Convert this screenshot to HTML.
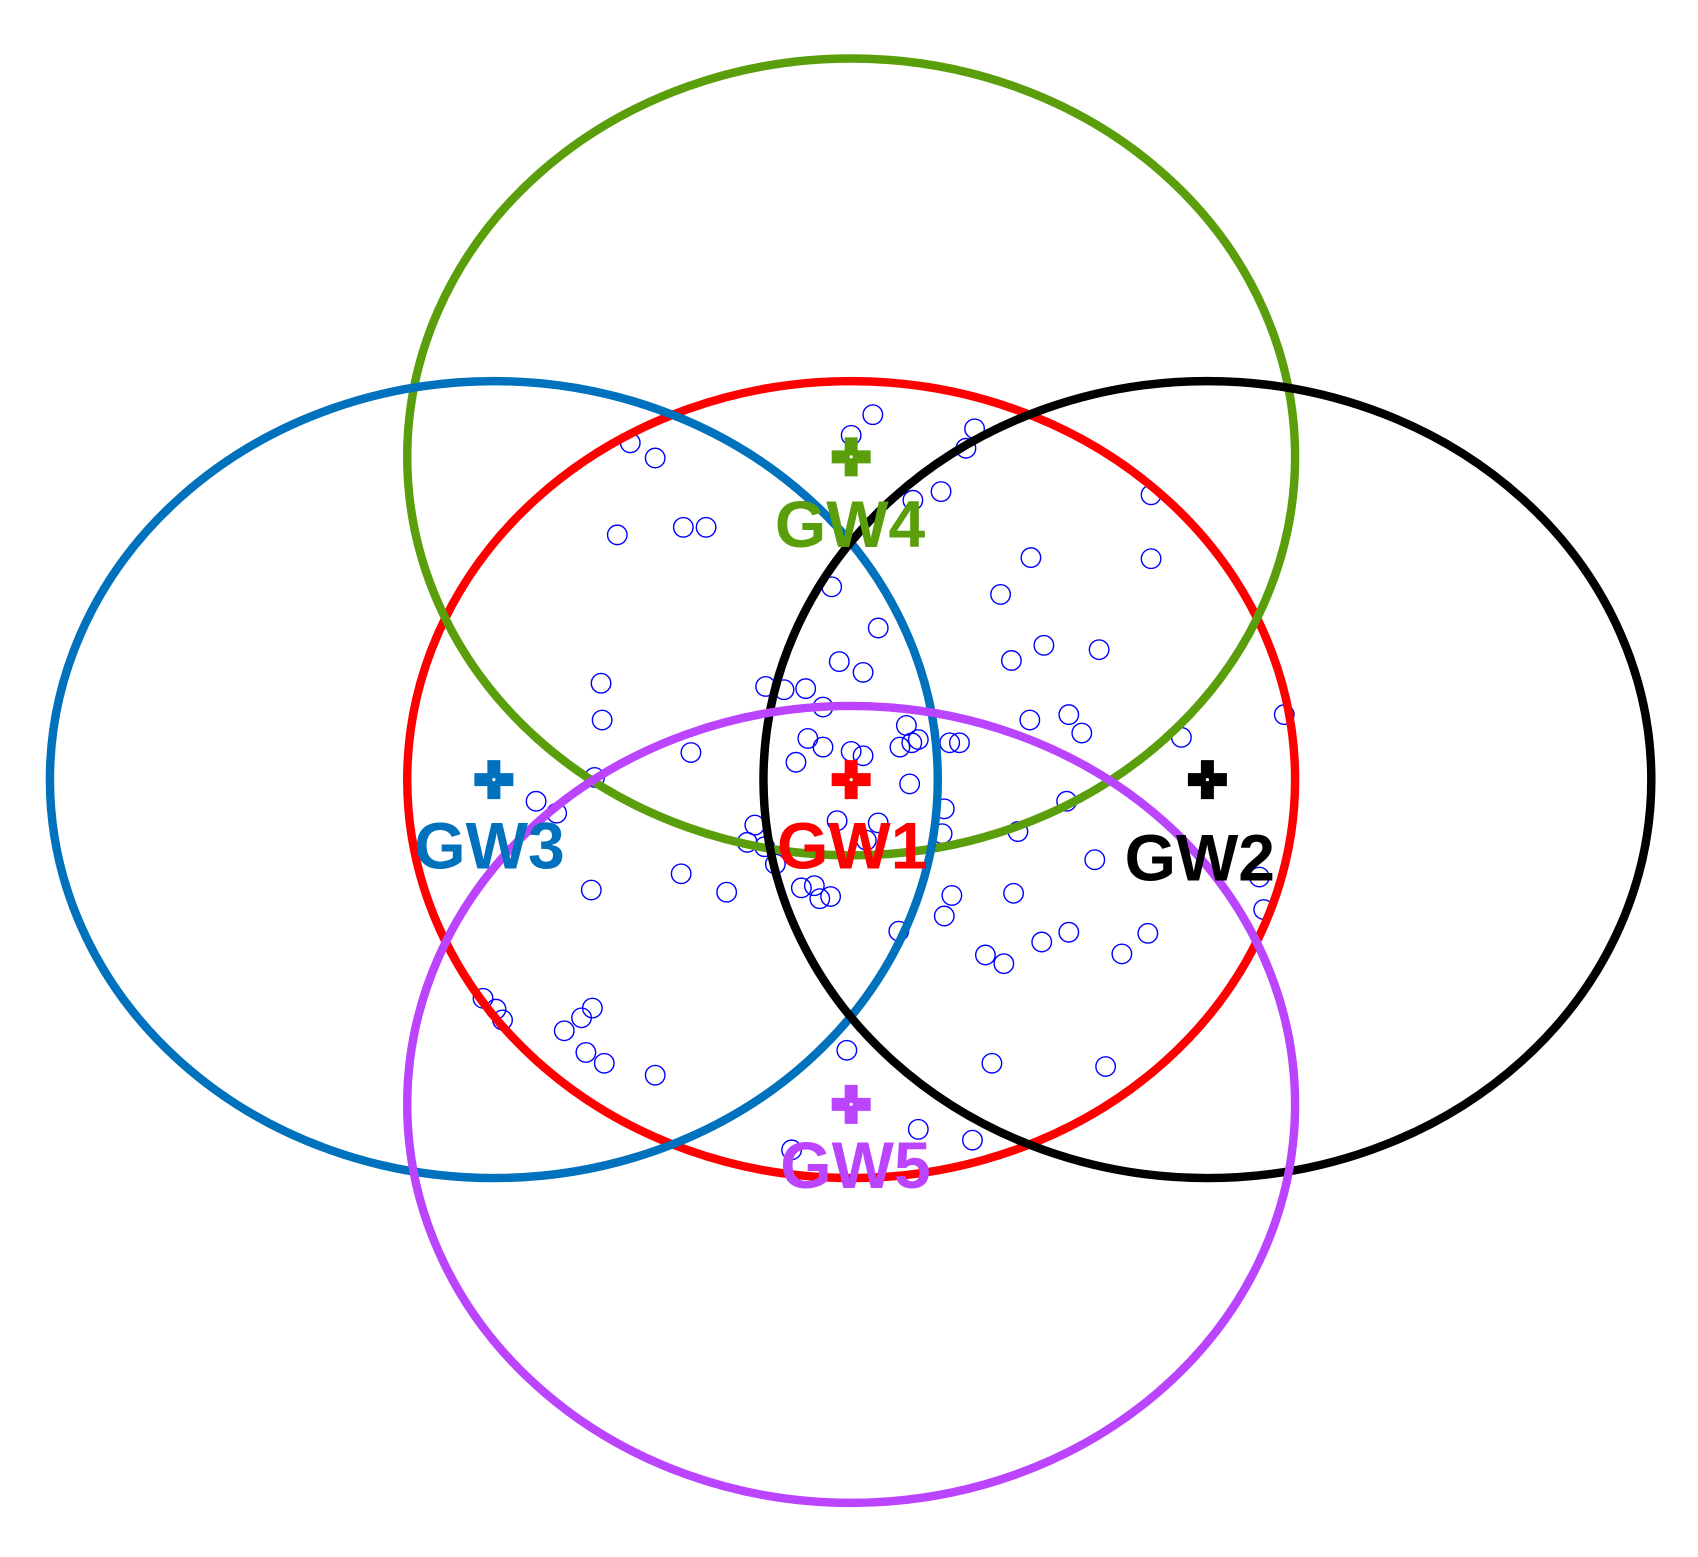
<!DOCTYPE html>
<html><head><style>html,body{margin:0;padding:0;background:#fff}svg{display:block}</style></head>
<body>
<svg width="1698" height="1557" viewBox="0 0 1568 1438" xmlns="http://www.w3.org/2000/svg">
<rect width="1568" height="1438" fill="#fff"/>
<g fill="none" stroke-width="1.3" stroke="#0000ff" id="pts">
<circle cx="806" cy="383" r="9"/><circle cx="786" cy="402" r="9"/><circle cx="900" cy="396" r="9"/><circle cx="892" cy="414" r="9"/><circle cx="582" cy="409" r="9"/><circle cx="605" cy="423" r="9"/><circle cx="570" cy="494" r="9"/><circle cx="631" cy="487" r="9"/><circle cx="652" cy="487" r="9"/><circle cx="843" cy="462" r="9"/><circle cx="869" cy="454" r="9"/><circle cx="1063" cy="457" r="9"/><circle cx="1063" cy="516" r="9"/><circle cx="952" cy="515" r="9"/><circle cx="924" cy="549" r="9"/><circle cx="768" cy="542" r="9"/><circle cx="811" cy="580" r="9"/><circle cx="775" cy="611" r="9"/><circle cx="797" cy="621" r="9"/><circle cx="934" cy="610" r="9"/><circle cx="964" cy="596" r="9"/><circle cx="1015" cy="600" r="9"/><circle cx="555" cy="631" r="9"/><circle cx="556" cy="665" r="9"/><circle cx="707" cy="634" r="9"/><circle cx="724" cy="637" r="9"/><circle cx="744" cy="636" r="9"/><circle cx="760" cy="653" r="9"/><circle cx="638" cy="695" r="9"/><circle cx="746" cy="682" r="9"/><circle cx="760" cy="690" r="9"/><circle cx="735" cy="704" r="9"/><circle cx="786" cy="694" r="9"/><circle cx="797" cy="698" r="9"/><circle cx="837" cy="670" r="9"/><circle cx="831" cy="690" r="9"/><circle cx="842" cy="686" r="9"/><circle cx="848" cy="683" r="9"/><circle cx="877" cy="686" r="9"/><circle cx="886" cy="686" r="9"/><circle cx="840" cy="724" r="9"/><circle cx="951" cy="665" r="9"/><circle cx="987" cy="660" r="9"/><circle cx="999" cy="677" r="9"/><circle cx="1091" cy="681" r="9"/><circle cx="1186" cy="660" r="9"/><circle cx="549" cy="718" r="9"/><circle cx="495" cy="740" r="9"/><circle cx="514" cy="751" r="9"/><circle cx="872" cy="747" r="9"/><circle cx="940" cy="768" r="9"/><circle cx="985" cy="740" r="9"/><circle cx="870" cy="770" r="9"/><circle cx="697" cy="762" r="9"/><circle cx="690" cy="778" r="9"/><circle cx="706" cy="782" r="9"/><circle cx="716" cy="798" r="9"/><circle cx="773" cy="758" r="9"/><circle cx="800" cy="776" r="9"/><circle cx="811" cy="760" r="9"/><circle cx="629" cy="807" r="9"/><circle cx="671" cy="824" r="9"/><circle cx="546" cy="822" r="9"/><circle cx="740" cy="820" r="9"/><circle cx="752" cy="818" r="9"/><circle cx="767" cy="828" r="9"/><circle cx="757" cy="830" r="9"/><circle cx="879" cy="827" r="9"/><circle cx="936" cy="825" r="9"/><circle cx="1011" cy="794" r="9"/><circle cx="1163" cy="810" r="9"/><circle cx="1167" cy="840" r="9"/><circle cx="830" cy="860" r="9"/><circle cx="872" cy="846" r="9"/><circle cx="910" cy="882" r="9"/><circle cx="927" cy="890" r="9"/><circle cx="962" cy="870" r="9"/><circle cx="987" cy="861" r="9"/><circle cx="1036" cy="881" r="9"/><circle cx="1060" cy="862" r="9"/><circle cx="446" cy="922" r="9"/><circle cx="458" cy="932" r="9"/><circle cx="464" cy="942" r="9"/><circle cx="547" cy="931" r="9"/><circle cx="537" cy="940" r="9"/><circle cx="521" cy="952" r="9"/><circle cx="541" cy="972" r="9"/><circle cx="558" cy="982" r="9"/><circle cx="605" cy="993" r="9"/><circle cx="782" cy="970" r="9"/><circle cx="916" cy="982" r="9"/><circle cx="1021" cy="985" r="9"/><circle cx="848" cy="1043" r="9"/><circle cx="898" cy="1053" r="9"/><circle cx="731" cy="1062" r="9"/>
</g>
<g fill="none" stroke-width="7.8">
<ellipse cx="786" cy="720" rx="410" ry="368" stroke="#ff0000"/>
<ellipse cx="786" cy="422" rx="410" ry="368" stroke="#5b9e0b"/>
<ellipse cx="456" cy="720" rx="410" ry="368" stroke="#0071bc"/>
<ellipse cx="1115" cy="720" rx="410" ry="368" stroke="#000"/>
<ellipse cx="786" cy="1020" rx="410" ry="368" stroke="#bb44ff"/>
</g>
<g stroke-width="12">
<path d="M768 720H804M786 702V738" stroke="#ff0000"/>
<path d="M768 422H804M786 404V440" stroke="#5b9e0b"/>
<path d="M438 720H474M456 702V738" stroke="#0071bc"/>
<path d="M1097 720H1133M1115 702V738" stroke="#000"/>
<path d="M768 1020H804M786 1002V1038" stroke="#bb44ff"/>
</g>
<g fill="#fff">
<circle cx="786" cy="720" r="1.5"/><circle cx="786" cy="422" r="1.5"/><circle cx="456" cy="720" r="1.5"/><circle cx="1115" cy="720" r="1.5"/><circle cx="786" cy="1020" r="1.5"/>
</g>
<g font-family="Liberation Sans, sans-serif" font-weight="bold" font-size="61" text-anchor="middle">
<text x="785" y="505" fill="#5b9e0b">GW4</text>
<text x="452" y="802" fill="#0071bc">GW3</text>
<text x="787" y="802" fill="#ff0000">GW1</text>
<text x="1108" y="813" fill="#000">GW2</text>
<text x="790" y="1097" fill="#bb44ff">GW5</text>
</g>
</svg>
</body></html>
